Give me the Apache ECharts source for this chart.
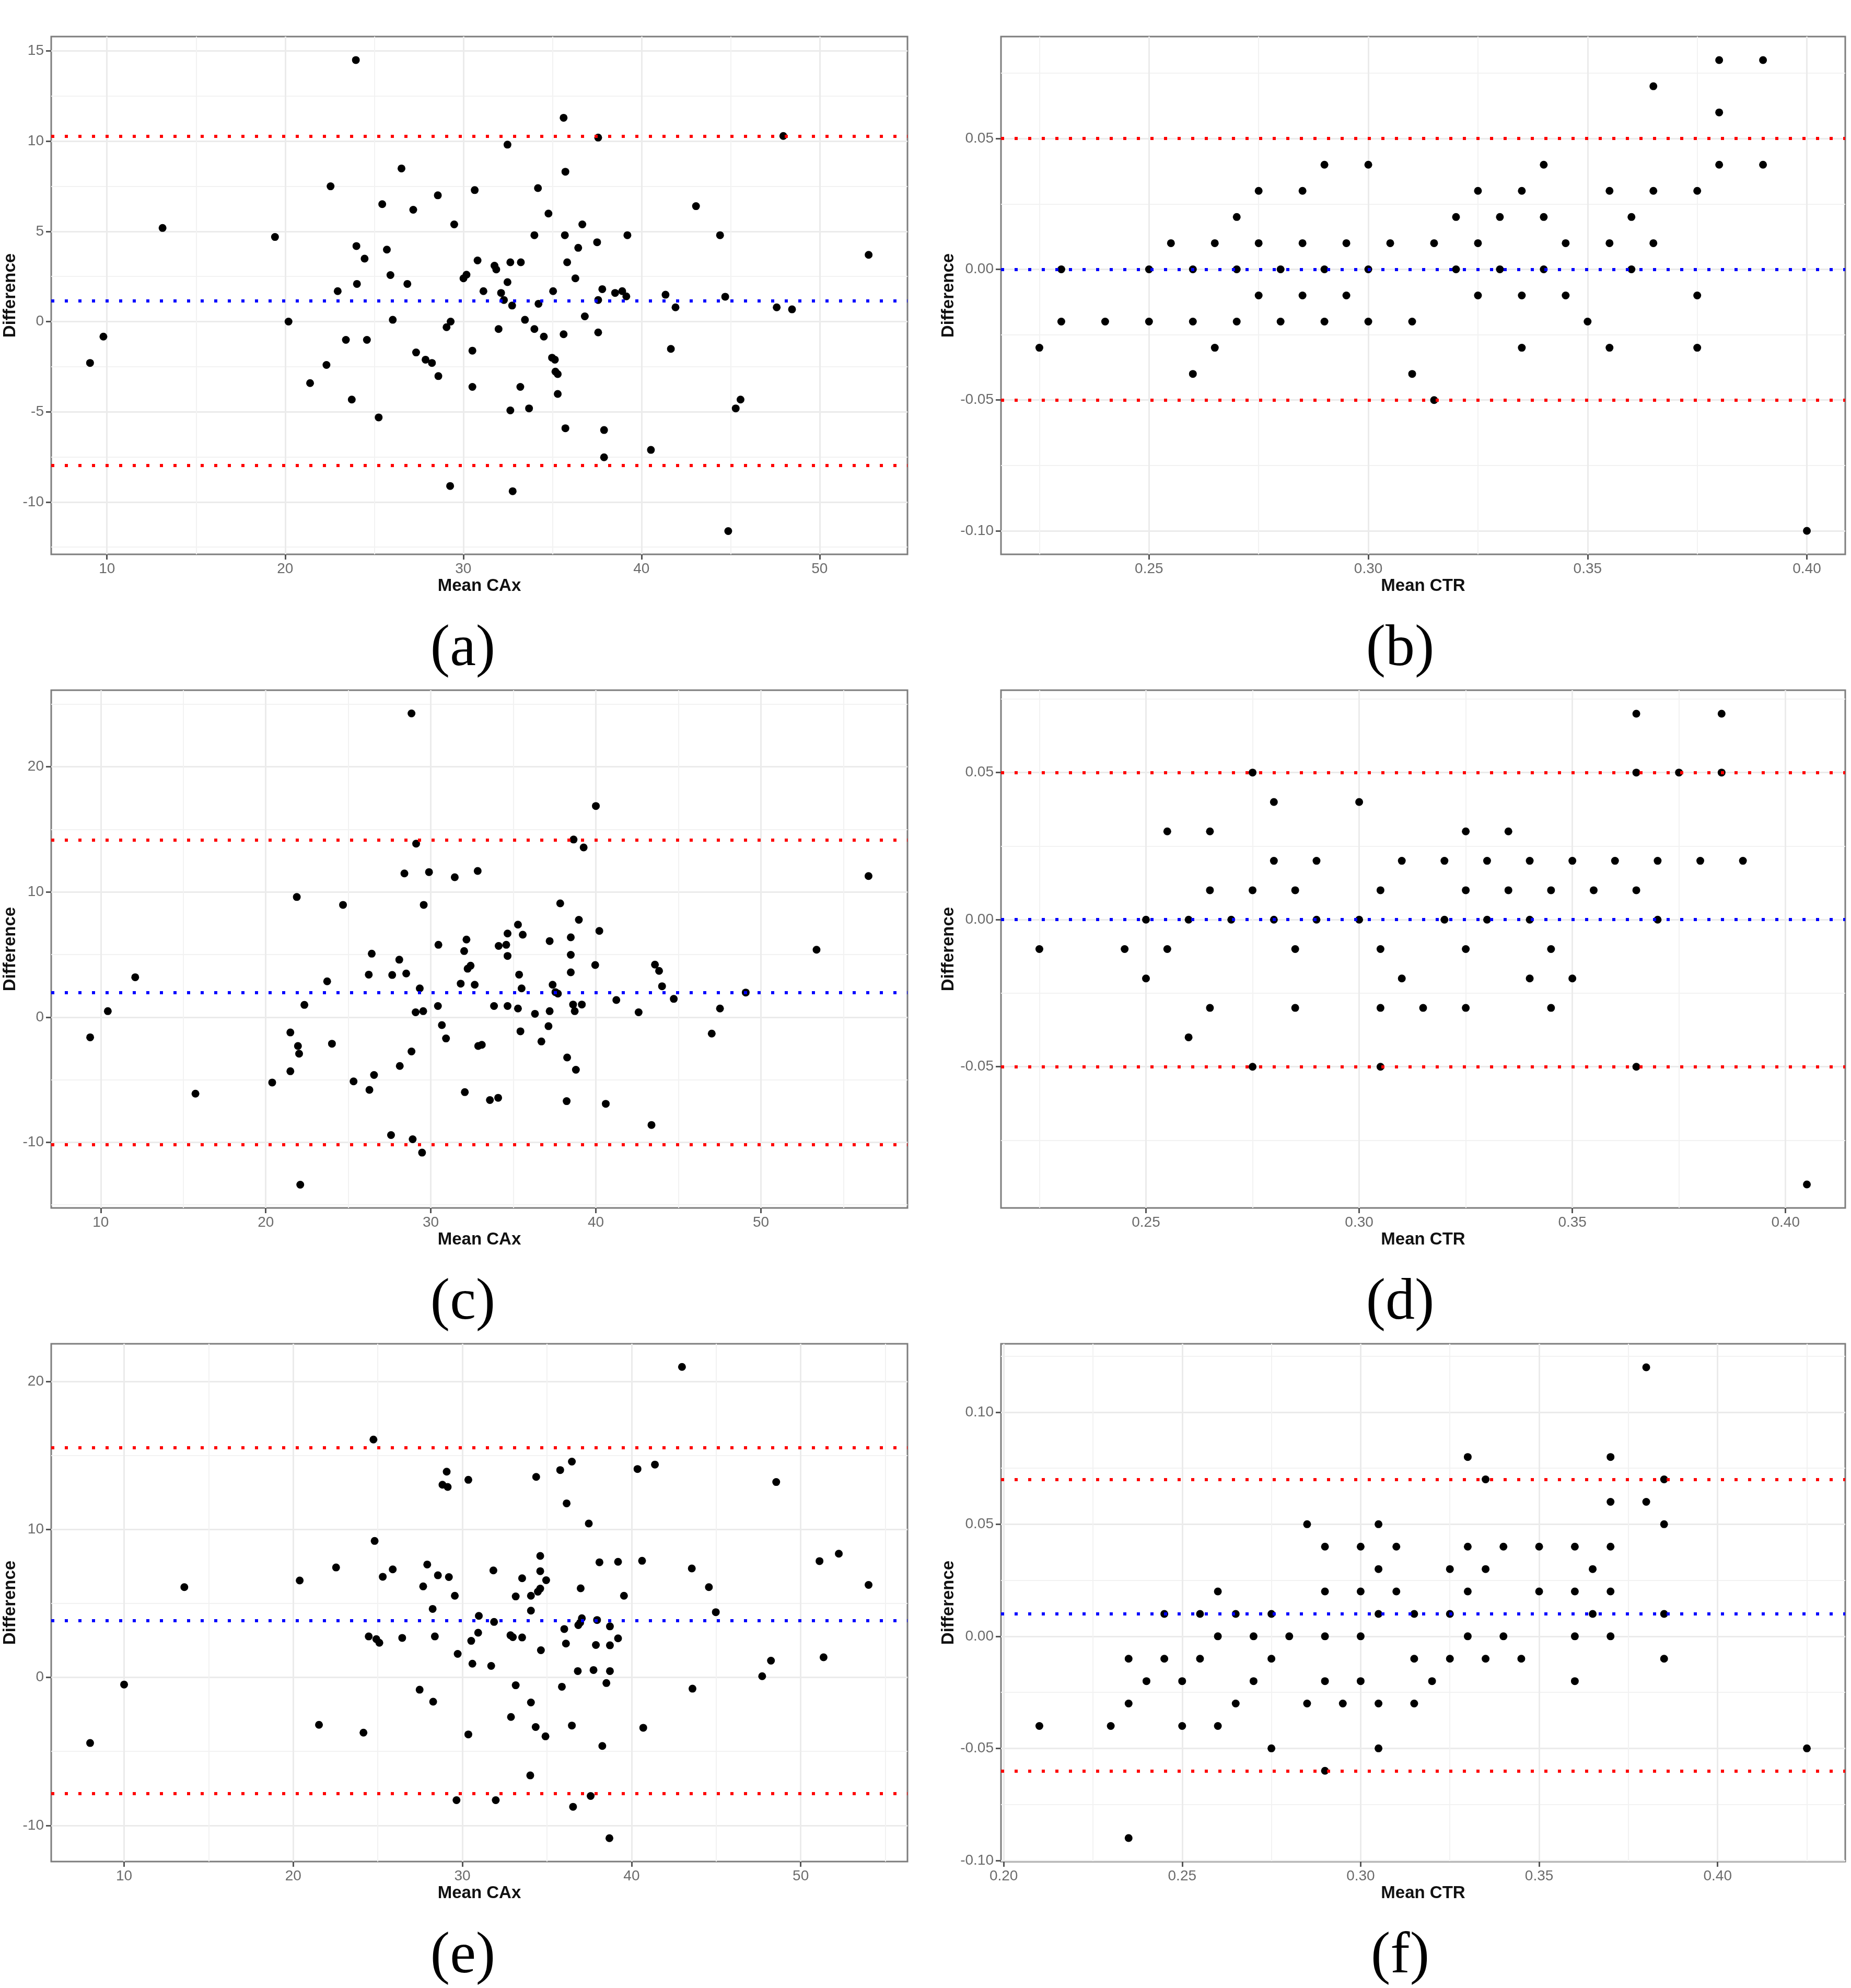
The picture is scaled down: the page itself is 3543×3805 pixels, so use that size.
<!DOCTYPE html>
<html>
<head>
<meta charset="utf-8">
<script src="https://cdn.jsdelivr.net/npm/echarts@6/dist/echarts.min.js"></script>
<style>
  html, body { margin: 0; padding: 0; background: #ffffff; }
  #chart { width: 3543px; height: 3805px; }
</style>
</head>
<body>
<div id="chart"></div>
<script>
// Bland-Altman panels (a)-(f): [mean, difference] pairs.

const ptsA = [
  [23.97,14.5],[35.63,11.3],[37.57,10.2],[47.96,10.29],[32.48,9.81],[26.53,8.49],[35.73,8.31],
  [22.55,7.5],[34.19,7.4],[30.64,7.29],[28.57,7.0],[43.06,6.4],[25.45,6.51],[27.19,6.2],
  [34.78,5.99],[29.49,5.39],[36.68,5.39],[13.12,5.19],[19.43,4.69],[33.99,4.79],[35.7,4.79],
  [39.21,4.79],[44.41,4.79],[37.51,4.4],[24.0,4.19],[25.71,3.99],[36.45,4.09],[52.75,3.7],
  [24.46,3.49],[30.8,3.39],[32.64,3.29],[33.23,3.29],[35.83,3.29],[31.75,3.1],[31.85,2.89],
  [25.91,2.58],[30.18,2.6],[30.01,2.4],[36.29,2.4],[32.48,2.19],[24.03,2.09],[26.86,2.09],
  [22.95,1.69],[31.13,1.69],[35.04,1.69],[37.8,1.8],[32.12,1.59],[38.52,1.59],[38.92,1.69],
  [39.15,1.4],[41.35,1.49],[44.7,1.38],[32.28,1.2],[37.57,1.2],[32.74,0.89],[34.22,0.99],
  [41.91,0.79],[47.59,0.79],[48.45,0.68],[36.82,0.29],[20.19,0],[26.04,0.1],[29.29,0],
  [33.46,0.1],[29.06,-0.31],[31.98,-0.41],[33.99,-0.41],[37.57,-0.6],[9.8,-0.83],[34.52,-0.83],
  [35.63,-0.7],[23.41,-1.01],[24.59,-1.01],[41.65,-1.51],[30.51,-1.61],[27.35,-1.71],
  [27.88,-2.11],[28.24,-2.29],[9.05,-2.29],[34.98,-2.0],[35.14,-2.11],[22.32,-2.4],
  [35.17,-2.77],[35.3,-2.91],[28.6,-3.02],[21.4,-3.41],[30.51,-3.62],[33.2,-3.62],[35.3,-4.01],
  [23.74,-4.32],[45.56,-4.32],[45.29,-4.81],[32.64,-4.92],[33.69,-4.81],[25.25,-5.31],
  [35.73,-5.91],[37.9,-6.01],[40.53,-7.11],[37.9,-7.52],[29.26,-9.11],[32.77,-9.4],[44.87,-11.61]
];

const ptsB = [
  [0.38,0.08],[0.39,0.08],[0.365,0.07],[0.38,0.06],
  [0.29,0.04],[0.30,0.04],[0.34,0.04],[0.38,0.04],[0.39,0.04],
  [0.275,0.03],[0.285,0.03],[0.325,0.03],[0.335,0.03],[0.355,0.03],[0.365,0.03],[0.375,0.03],
  [0.27,0.02],[0.32,0.02],[0.33,0.02],[0.34,0.02],[0.36,0.02],
  [0.255,0.01],[0.265,0.01],[0.275,0.01],[0.285,0.01],[0.295,0.01],[0.305,0.01],[0.315,0.01],
  [0.325,0.01],[0.345,0.01],[0.355,0.01],[0.365,0.01],
  [0.23,0],[0.25,0],[0.26,0],[0.27,0],[0.28,0],[0.29,0],[0.30,0],[0.32,0],[0.33,0],[0.34,0],[0.36,0],
  [0.275,-0.01],[0.285,-0.01],[0.295,-0.01],[0.325,-0.01],[0.335,-0.01],[0.345,-0.01],[0.375,-0.01],
  [0.23,-0.02],[0.24,-0.02],[0.25,-0.02],[0.26,-0.02],[0.27,-0.02],[0.28,-0.02],[0.29,-0.02],
  [0.30,-0.02],[0.31,-0.02],[0.35,-0.02],
  [0.225,-0.03],[0.265,-0.03],[0.335,-0.03],[0.355,-0.03],[0.375,-0.03],
  [0.26,-0.04],[0.31,-0.04],[0.315,-0.05],[0.40,-0.10]
];

const ptsC = [
  [28.83,24.26],[40.0,16.87],[38.65,14.19],[29.11,13.86],[39.26,13.56],[56.52,11.27],[28.4,11.48],
  [29.89,11.59],[31.45,11.18],[32.84,11.68],[21.88,9.6],[24.68,8.97],[29.57,8.97],[37.84,9.09],
  [38.97,7.78],[35.28,7.39],[34.65,6.68],[35.57,6.59],[40.21,6.89],[32.16,6.2],[37.2,6.08],
  [38.48,6.38],[30.46,5.78],[34.11,5.69],[34.57,5.78],[32.02,5.28],[26.42,5.07],[34.65,4.89],
  [38.48,4.98],[28.09,4.59],[39.96,4.17],[43.58,4.2],[32.41,4.11],[32.23,3.87],[43.83,3.7],
  [26.24,3.4],[27.66,3.37],[28.51,3.49],[35.35,3.4],[38.48,3.58],[12.09,3.19],[53.37,5.39],
  [23.72,2.86],[31.81,2.68],[32.66,2.59],[37.38,2.59],[44.01,2.47],[29.33,2.3],[35.5,2.3],
  [37.55,2.0],[37.7,1.88],[49.08,1.97],[44.72,1.46],[41.24,1.37],[22.34,0.98],[30.43,0.89],
  [33.83,0.89],[34.65,0.89],[38.62,1.01],[39.15,1.01],[35.28,0.69],[47.52,0.69],[10.43,0.48],
  [29.08,0.39],[29.54,0.48],[36.31,0.27],[37.2,0.48],[38.72,0.48],[42.59,0.39],[30.67,-0.63],
  [37.13,-0.72],[21.49,-1.22],[35.43,-1.13],[47.02,-1.31],[9.36,-1.61],[30.92,-1.7],[36.7,-1.94],
  [24.01,-2.12],[21.95,-2.3],[32.87,-2.3],[33.09,-2.21],[22.02,-2.92],[28.83,-2.74],[38.26,-3.22],
  [28.12,-3.9],[38.79,-4.2],[21.49,-4.32],[26.56,-4.62],[20.39,-5.22],[25.32,-5.13],[26.28,-5.81],
  [15.74,-6.11],[32.06,-5.99],[33.58,-6.62],[34.08,-6.44],[38.23,-6.71],[40.6,-6.92],[43.37,-8.61],
  [27.59,-9.42],[28.9,-9.75],[29.47,-10.82],[22.09,-13.38]
];

const ptsD = [
  [0.365,0.07],[0.385,0.07],
  [0.275,0.05],[0.365,0.05],[0.375,0.05],[0.385,0.05],
  [0.28,0.04],[0.30,0.04],
  [0.255,0.03],[0.265,0.03],[0.325,0.03],[0.335,0.03],
  [0.28,0.02],[0.29,0.02],[0.31,0.02],[0.32,0.02],[0.33,0.02],[0.34,0.02],[0.35,0.02],[0.36,0.02],
  [0.37,0.02],[0.38,0.02],[0.39,0.02],
  [0.265,0.01],[0.275,0.01],[0.285,0.01],[0.305,0.01],[0.325,0.01],[0.335,0.01],[0.345,0.01],
  [0.355,0.01],[0.365,0.01],
  [0.25,0],[0.26,0],[0.27,0],[0.28,0],[0.29,0],[0.30,0],[0.32,0],[0.33,0],[0.34,0],[0.37,0],
  [0.225,-0.01],[0.245,-0.01],[0.255,-0.01],[0.285,-0.01],[0.305,-0.01],[0.325,-0.01],[0.345,-0.01],
  [0.25,-0.02],[0.31,-0.02],[0.34,-0.02],[0.35,-0.02],
  [0.265,-0.03],[0.285,-0.03],[0.305,-0.03],[0.315,-0.03],[0.325,-0.03],[0.345,-0.03],
  [0.26,-0.04],[0.275,-0.05],[0.305,-0.05],[0.365,-0.05],[0.405,-0.09]
];

const ptsE = [
  [42.98,20.98],[24.74,16.07],[36.47,14.58],[41.38,14.38],[40.35,14.08],[35.78,14.01],[29.07,13.9],
  [34.36,13.55],[30.35,13.35],[48.55,13.2],[28.82,13.02],[29.13,12.87],[36.16,11.76],[37.47,10.4],
  [24.81,9.22],[52.25,8.36],[34.6,8.21],[40.62,7.88],[38.1,7.78],[39.2,7.81],[51.11,7.86],
  [27.92,7.63],[22.53,7.43],[43.56,7.36],[31.83,7.23],[34.6,7.18],[25.88,7.3],[28.55,6.9],
  [25.29,6.8],[29.2,6.78],[33.53,6.7],[34.95,6.57],[20.38,6.55],[54.01,6.25],[27.68,6.15],
  [13.56,6.1],[44.57,6.1],[36.99,6.02],[34.6,6.0],[34.46,5.79],[29.55,5.52],[33.15,5.47],
  [34.05,5.52],[39.55,5.52],[28.24,4.63],[34.05,4.51],[44.98,4.41],[30.97,4.16],[37.06,4.0],
  [31.87,3.75],[36.96,3.7],[37.96,3.88],[36.85,3.53],[38.72,3.45],[36.02,3.27],[24.46,2.77],
  [24.91,2.59],[25.09,2.34],[26.44,2.67],[28.37,2.77],[32.84,2.85],[32.98,2.72],[33.53,2.7],
  [39.2,2.64],[30.52,2.47],[30.93,3.02],[36.12,2.29],[37.89,2.19],[38.72,2.17],[34.64,1.84],
  [29.72,1.59],[48.24,1.13],[51.35,1.36],[30.59,0.93],[31.7,0.78],[36.82,0.43],[37.75,0.5],
  [38.72,0.43],[47.72,0.08],[10.0,-0.48],[38.51,-0.38],[33.15,-0.53],[35.88,-0.63],[27.47,-0.83],
  [43.6,-0.76],[28.27,-1.64],[34.05,-1.69],[32.87,-2.67],[21.52,-3.2],[36.47,-3.25],[34.33,-3.35],
  [40.69,-3.4],[24.15,-3.73],[30.35,-3.85],[34.91,-3.98],[7.99,-4.43],[38.27,-4.63],[34.01,-6.62],
  [37.58,-8.01],[29.65,-8.29],[31.97,-8.29],[36.54,-8.74],[38.69,-10.86]
];

const ptsF = [
  [0.38,0.12],[0.33,0.08],[0.37,0.08],[0.335,0.07],[0.385,0.07],[0.37,0.06],[0.38,0.06],
  [0.285,0.05],[0.305,0.05],[0.385,0.05],
  [0.29,0.04],[0.30,0.04],[0.31,0.04],[0.33,0.04],[0.34,0.04],[0.35,0.04],[0.36,0.04],[0.37,0.04],
  [0.305,0.03],[0.325,0.03],[0.335,0.03],[0.365,0.03],
  [0.26,0.02],[0.29,0.02],[0.30,0.02],[0.31,0.02],[0.33,0.02],[0.35,0.02],[0.36,0.02],[0.37,0.02],
  [0.245,0.01],[0.255,0.01],[0.265,0.01],[0.275,0.01],[0.305,0.01],[0.315,0.01],[0.325,0.01],
  [0.365,0.01],[0.385,0.01],
  [0.26,0],[0.27,0],[0.28,0],[0.29,0],[0.30,0],[0.33,0],[0.34,0],[0.36,0],[0.37,0],
  [0.235,-0.01],[0.245,-0.01],[0.255,-0.01],[0.275,-0.01],[0.315,-0.01],[0.325,-0.01],[0.335,-0.01],
  [0.345,-0.01],[0.385,-0.01],
  [0.24,-0.02],[0.25,-0.02],[0.27,-0.02],[0.29,-0.02],[0.30,-0.02],[0.32,-0.02],[0.36,-0.02],
  [0.235,-0.03],[0.265,-0.03],[0.285,-0.03],[0.295,-0.03],[0.305,-0.03],[0.315,-0.03],
  [0.21,-0.04],[0.23,-0.04],[0.25,-0.04],[0.26,-0.04],
  [0.275,-0.05],[0.305,-0.05],[0.425,-0.05],[0.29,-0.06],[0.235,-0.09]
];

// limits of agreement: [upper, mean bias, lower]
const limA = [10.27, 1.16, -7.98];
const limB = [0.0536, 0.0013, -0.0513];
const limC = [14.16, 1.97, -10.18];
const limD = [0.053, 0.0033, -0.0466];
const limE = [15.54, 3.85, -7.86];
const limF = [0.0708, 0.006, -0.0588];

// tick values (major labelled, minor grid only)
const xMajorCAx = [10, 20, 30, 40, 50];
const xMinorA = [15, 25, 35, 45];
const xMinorCE = [15, 25, 35, 45, 55];
const yMajorA = [-10, -5, 0, 5, 10, 15];
const yMinorA = [-12.5, -7.5, -2.5, 2.5, 7.5, 12.5];
const yMajorCE = [-10, 0, 10, 20];
const yMinorC = [-15, -5, 5, 15, 25];
const yMinorE = [-5, 5, 15];
const xMajorBD = [0.25, 0.30, 0.35, 0.40];
const xMinorBD = [0.225, 0.275, 0.325, 0.375];
const yMajorB = [-0.10, -0.05, 0, 0.05];
const yMajorD = [-0.05, 0, 0.05];
const yMinorBD = [-0.075, -0.025, 0.025, 0.075];
const xMajorF = [0.20, 0.25, 0.30, 0.35, 0.40];
const xMinorF = [0.225, 0.275, 0.325, 0.375, 0.425];
const yMajorF = [-0.10, -0.05, 0, 0.05, 0.10];
const yMinorF = [-0.075, -0.025, 0.025, 0.075, 0.125];

const panels = [
  { tag: '(a)', pts: ptsA, lim: limA, col: 0, row: 0, xName: 'Mean CAx', dec: 0,
    x: [6.87, 54.93], y: [-12.9, 15.8], xMaj: xMajorCAx, xMin: xMinorA, yMaj: yMajorA, yMin: yMinorA },
  { tag: '(b)', pts: ptsB, lim: limB, col: 1, row: 0, xName: 'Mean CTR', dec: 2,
    x: [0.21625, 0.40875], y: [-0.109, 0.089], xMaj: xMajorBD, xMin: xMinorBD, yMaj: yMajorB, yMin: yMinorBD },
  { tag: '(c)', pts: ptsC, lim: limC, col: 0, row: 1, xName: 'Mean CAx', dec: 0,
    x: [7.0, 58.88], y: [-15.24, 26.12], xMaj: xMajorCAx, xMin: xMinorCE, yMaj: yMajorCE, yMin: yMinorC },
  { tag: '(d)', pts: ptsD, lim: limD, col: 1, row: 1, xName: 'Mean CTR', dec: 2,
    x: [0.216, 0.414], y: [-0.098, 0.078], xMaj: xMajorBD, xMin: xMinorBD, yMaj: yMajorD, yMin: yMinorBD },
  { tag: '(e)', pts: ptsE, lim: limE, col: 0, row: 2, xName: 'Mean CAx', dec: 0,
    x: [5.69, 56.31], y: [-12.44, 22.54], xMaj: xMajorCAx, xMin: xMinorCE, yMaj: yMajorCE, yMin: yMinorE },
  { tag: '(f)', pts: ptsF, lim: limF, col: 1, row: 2, xName: 'Mean CTR', dec: 2,
    x: [0.19925, 0.43575], y: [-0.1005, 0.1305], xMaj: xMajorF, xMin: xMinorF, yMaj: yMajorF, yMin: yMinorF }
];

const COLS = [{ left: 98, width: 1639, cap: 886, yGap: 62 }, { left: 1916, width: 1616, cap: 2680, yGap: 84 }];
const ROWS = [70, 1321, 2572];
const PLOT_H = 991;
const CAP_Y = [1244, 2495, 3746];

const SANS = '"Liberation Sans", Arial, sans-serif';
const TICK_LABEL = { color: '#6b6b6b', fontSize: 28, fontFamily: SANS };
const AXIS_NAME = { color: '#111', fontSize: 33, fontWeight: 'bold', fontFamily: SANS };
const DOTS = [6, 20];

const grid = [], xAxis = [], yAxis = [], series = [], graphic = [];

panels.forEach((p, i) => {
  const c = COLS[p.col];
  const fmt = (v) => Number(v).toFixed(p.dec);
  grid.push({
    left: c.left, top: ROWS[p.row], width: c.width, height: PLOT_H,
    show: true, borderColor: '#7d7d7d', borderWidth: 3, backgroundColor: '#fff'
  });

  const majorSplit = { show: true, lineStyle: { color: '#ebebeb', width: 3 } };
  const minorSplit = { show: true, lineStyle: { color: '#f2f2f2', width: 2 } };
  const noLine = { show: false, onZero: false };

  xAxis.push({
    type: 'value', gridIndex: i, min: p.x[0], max: p.x[1], position: 'bottom',
    name: p.xName, nameLocation: 'middle', nameGap: 44, nameTextStyle: AXIS_NAME,
    axisLine: noLine,
    axisTick: { show: true, length: 10, customValues: p.xMaj, lineStyle: { color: '#555', width: 3 } },
    axisLabel: { customValues: p.xMaj, formatter: fmt, margin: 14, ...TICK_LABEL },
    splitLine: majorSplit
  });
  xAxis.push({
    type: 'value', gridIndex: i, min: p.x[0], max: p.x[1], position: 'top',
    axisLine: noLine,
    axisTick: { show: false, customValues: p.xMin },
    axisLabel: { show: false, customValues: p.xMin },
    splitLine: minorSplit
  });
  yAxis.push({
    type: 'value', gridIndex: i, min: p.y[0], max: p.y[1], position: 'left',
    name: 'Difference', nameLocation: 'middle', nameGap: c.yGap, nameTextStyle: AXIS_NAME,
    axisLine: noLine,
    axisTick: { show: true, length: 10, customValues: p.yMaj, lineStyle: { color: '#555', width: 3 } },
    axisLabel: { customValues: p.yMaj, formatter: fmt, margin: 14, ...TICK_LABEL },
    splitLine: majorSplit
  });
  yAxis.push({
    type: 'value', gridIndex: i, min: p.y[0], max: p.y[1], position: 'right',
    axisLine: noLine,
    axisTick: { show: false, customValues: p.yMin },
    axisLabel: { show: false, customValues: p.yMin },
    splitLine: minorSplit
  });

  const loa = (v, color) => ({
    yAxis: v,
    lineStyle: { color, width: 6, type: DOTS, cap: 'butt' }
  });
  series.push({
    type: 'scatter',
    xAxisIndex: 2 * i, yAxisIndex: 2 * i,
    data: p.pts,
    symbol: 'circle', symbolSize: 15,
    itemStyle: { color: '#000', opacity: 1 },
    markLine: {
      silent: true, symbol: 'none', label: { show: false },
      emphasis: { disabled: true },
      data: [loa(p.lim[0], '#ff0000'), loa(p.lim[1], '#0000ff'), loa(p.lim[2], '#ff0000')]
    }
  });

  graphic.push({
    type: 'text', x: c.cap, y: CAP_Y[p.row],
    style: {
      text: p.tag, fill: '#000', fontSize: 112,
      fontFamily: '"Liberation Serif", "DejaVu Serif", serif',
      align: 'center', verticalAlign: 'middle'
    }
  });
});

const chart = echarts.init(document.getElementById('chart'), null, { renderer: 'canvas' });
chart.setOption({
  animation: false,
  backgroundColor: '#ffffff',
  grid, xAxis, yAxis, series, graphic
});
</script>
</body>
</html>
